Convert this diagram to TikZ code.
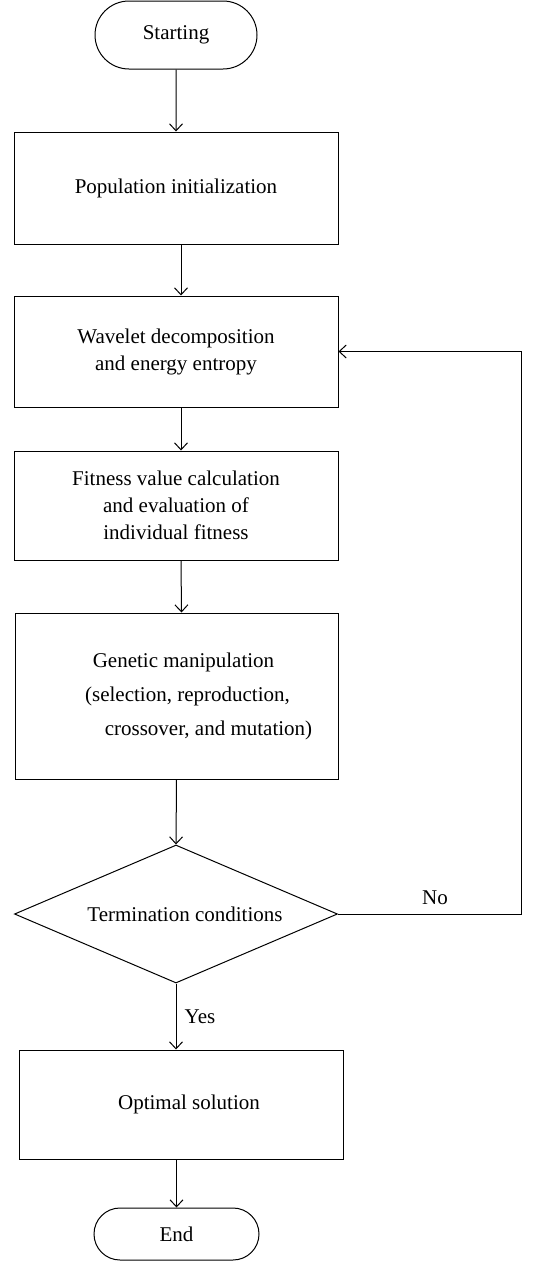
\documentclass[tikz,border=0pt]{standalone}
\usepackage{fontspec}
\setmainfont{Liberation Serif}
\usetikzlibrary{arrows.meta,shapes.geometric,shapes.misc}

\begin{document}
\begin{tikzpicture}[x=1pt,y=-1pt,line width=1pt,
    every node/.style={font=\fontsize{21}{27}\selectfont},
    terminal/.style={draw,rounded rectangle,minimum width=162pt,minimum height=68pt,inner sep=0pt},
    process/.style={draw,rectangle,minimum width=324pt,minimum height=110pt,inner sep=0pt,align=center},
    decision/.style={draw,diamond,aspect=2.34,minimum width=323pt,minimum height=138pt,inner sep=0pt},
    flow/.style={-{Straight Barb[length=7pt,width=13pt]}}]
\useasboundingbox (0,0) rectangle (547,1261);

% Steps
\node[terminal] (start) at (176,35) {Starting};
\node[process,minimum height=112pt] (init) at (176,188) {Population initialization};
\node[process,minimum height=111pt] (wavelet) at (176,351.5) {Wavelet decomposition\\and energy entropy};
\node[process,minimum height=109pt] (fitness) at (176,505.5) {Fitness value calculation\\and evaluation of\\individual fitness};
\node[process,minimum width=323pt,minimum height=166pt] (genetic) at (176.5,696)
    {\hspace*{14pt}Genetic manipulation\\[7pt]\hspace*{22pt}(selection, reproduction,\\[7pt]\hspace*{64pt}crossover, and mutation)};
\node[decision] (term) at (176,914) {\hspace*{18pt}Termination conditions};
\node[process,minimum height=109pt] (optimal) at (181,1104.5) {\hspace*{16pt}Optimal solution};
\node[terminal,minimum width=165pt,minimum height=52pt] (end) at (176.5,1234) {End};

% Flow
\draw[flow] (start) -- (init);
\draw[flow] ([xshift=5pt]init.south) -- ([xshift=5pt]wavelet.north);
\draw[flow] ([xshift=5pt]wavelet.south) -- ([xshift=5pt]fitness.north);
\draw[flow] ([xshift=5pt]fitness.south) -- ([xshift=5pt]genetic.north);
\draw[flow] (genetic.south) -- (term.north);
\draw[flow] (term.south) -- (term.south |- optimal.north);
\draw[flow] (end.north |- optimal.south) -- (end.north);

% Loop back
\draw[flow] (term.east) -- ++(183,0) |- (wavelet.east);
\node (no) at (435,898) {No};
\node (yes) at (200,1017) {Yes};
\end{tikzpicture}
\end{document}
